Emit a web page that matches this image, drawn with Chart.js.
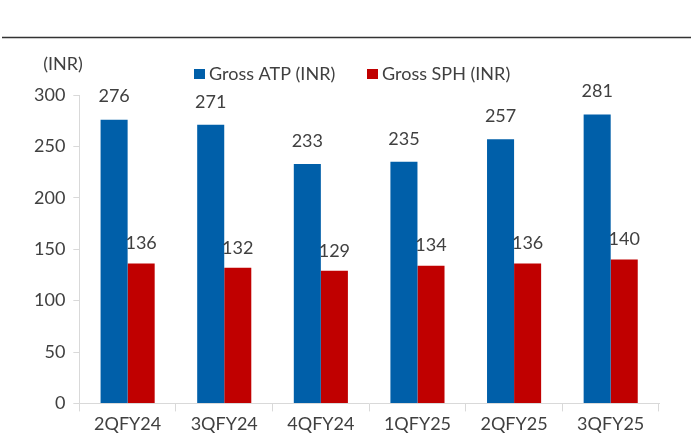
<!DOCTYPE html>
<html>
<head>
<meta charset="utf-8">
<script src="https://cdn.jsdelivr.net/npm/chart.js@4"></script>
<style>
  html,body{margin:0;padding:0;background:#fff;}
  #wrap{width:691px;height:437px;position:relative;}
</style>
</head>
<body>
<div id="wrap"><canvas id="chart" width="691" height="437"></canvas></div>
<script>
const quarters = ['2QFY24','3QFY24','4QFY24','1QFY25','2QFY25','3QFY25'];
const grossATP = [276, 271, 233, 235, 257, 281];
const grossSPH = [136, 132, 129, 134, 136, 140];
const yTicks = [0, 50, 100, 150, 200, 250, 300];

const textColor = '#404040';
const axisColor = '#d9d9d9';
const fontFamily = 'Lato, "Open Sans", sans-serif';

// top rule, unit label, legend and value labels
const extras = {
  id: 'extras',
  afterDraw(chart) {
    const ctx = chart.ctx;
    ctx.save();
    ctx.strokeStyle = '#333333';
    ctx.lineWidth = 1.5;
    ctx.beginPath();
    ctx.moveTo(2, 37.5);
    ctx.lineTo(691, 37.5);
    ctx.stroke();

    ctx.fillStyle = textColor;
    ctx.font = '18px ' + fontFamily;
    ctx.textBaseline = 'middle';
    ctx.textAlign = 'center';
    ctx.fillText('(INR)', 63, 64);

    // legend
    const legendX = [194, 367];
    chart.data.datasets.forEach(function(ds, i) {
      ctx.fillStyle = ds.backgroundColor;
      ctx.fillRect(legendX[i], 69, 11, 10);
      ctx.fillStyle = textColor;
      ctx.textAlign = 'left';
      ctx.fillText(ds.label, legendX[i] + 15, 74);
    });

    ctx.textAlign = 'center';
    chart.data.datasets.forEach(function(ds, i) {
      const meta = chart.getDatasetMeta(i);
      meta.data.forEach(function(bar, j) {
        ctx.fillText(String(ds.data[j]), bar.x, bar.y - (i === 0 ? 23 : 20));
      });
    });
    ctx.restore();
  }
};

new Chart(document.getElementById('chart'), {
  type: 'bar',
  data: {
    labels: quarters,
    datasets: [
      { label: 'Gross ATP (INR)', data: grossATP, backgroundColor: '#005FA9' },
      { label: 'Gross SPH (INR)', data: grossSPH, backgroundColor: '#C00000' }
    ]
  },
  options: {
    responsive: false,
    animation: false,
    devicePixelRatio: 1,
    layout: { padding: { top: 95, right: 32, bottom: 0, left: 26 } },
    datasets: { bar: { barPercentage: 1, categoryPercentage: 0.56 } },
    plugins: {
      legend: { display: false },
      tooltip: { enabled: false }
    },
    scales: {
      x: {
        grid: { drawOnChartArea: false, color: axisColor, tickLength: 8, offset: true },
        border: { color: axisColor },
        ticks: { color: textColor, font: { family: fontFamily, size: 18 }, padding: 2 }
      },
      y: {
        min: 0,
        max: 300,
        afterBuildTicks(axis) { axis.ticks = yTicks.map(v => ({ value: v })); },
        grid: { drawOnChartArea: false, color: axisColor, tickLength: 6 },
        border: { color: axisColor },
        ticks: { color: textColor, font: { family: fontFamily, size: 18 }, padding: 8 }
      }
    }
  },
  plugins: [extras]
});
</script>
</body>
</html>
